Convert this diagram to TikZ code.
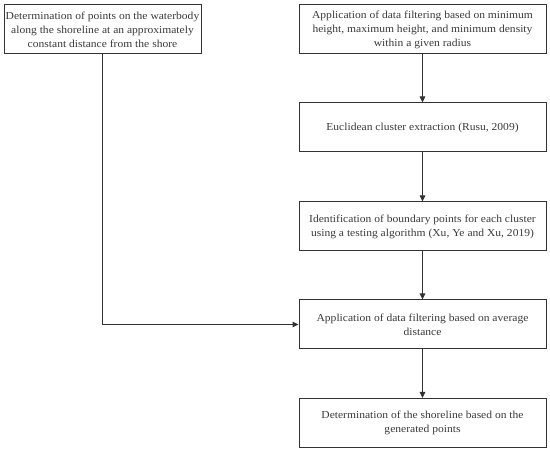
\documentclass[tikz,border=0pt]{standalone}
\usepackage{fontspec}
\setmainfont{Liberation Serif}[FakeStretch=1.08]
\usetikzlibrary{arrows.meta}
\definecolor{ln}{HTML}{333333}
\definecolor{tx}{HTML}{3A3A3A}
\tikzset{
  box/.style={draw=ln, line width=1pt, minimum height=49pt, align=center,
    inner sep=0pt, text=tx, font=\fontsize{10.7}{14}\selectfont},
  rbox/.style={box, minimum width=247pt},
  lbox/.style={box, minimum width=197pt},
  arr/.style={draw=ln, line width=1pt, -{Triangle[length=6pt,width=5.5pt]}}
}
\begin{document}
\begin{tikzpicture}[x=1pt,y=1pt]
\useasboundingbox (0,0) rectangle (550,-454);
\node[lbox] (l) at (102.5,-29.5) {Determination of points on the waterbody\\along the shoreline at an approximately\\constant distance from the shore};
\node[rbox] (a) at (422.5,-29.5) {Application of data filtering based on minimum\\height, maximum height, and minimum density\\within a given radius};
\node[rbox] (b) at (422.5,-127.5) {Euclidean cluster extraction (Rusu, 2009)};
\node[rbox] (c) at (422.5,-226.5) {Identification of boundary points for each cluster\\using a testing algorithm (Xu, Ye and Xu, 2019)};
\node[rbox] (d) at (422.5,-324.5) {Application of data filtering based on average\\distance};
\node[rbox] (e) at (422.5,-423) {Determination of the shoreline based on the\\generated points};
\draw[arr] (a) -- (b);
\draw[arr] (b) -- (c);
\draw[arr] (c) -- (d);
\draw[arr] (d) -- (e);
\draw[arr] (l.south) |- (d.west);
\end{tikzpicture}
\end{document}
